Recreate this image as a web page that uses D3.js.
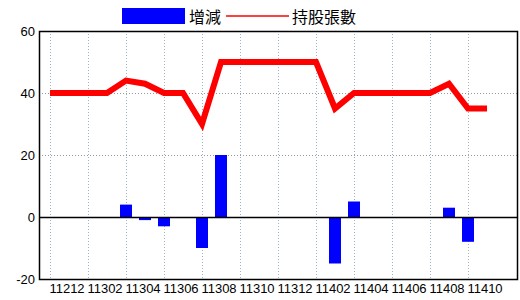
<!DOCTYPE html>
<html>
<head>
<meta charset="utf-8">
<script src="https://cdn.jsdelivr.net/npm/d3@7"></script>
<style>
  body { margin: 0; background: #fff; }
  svg { display: block; }
  .tick-label { font-family: "Liberation Sans Narrow", "Liberation Sans", Arial, sans-serif; font-size: 13px; fill: #000; }
  .legend-label { font-family: "Noto Sans CJK TC", "Noto Sans CJK SC", sans-serif; font-size: 16px; fill: #000; }
</style>
</head>
<body>
<svg id="chart" width="520" height="300"></svg>
<script>
// months (ROC year + month)
const months = ['11212', '11301', '11302', '11303', '11304', '11305', '11306', '11307',
    '11308', '11309', '11310', '11311', '11312', '11401', '11402', '11403',
    '11404', '11405', '11406', '11407', '11408', '11409', '11410', '11411']

// 持股張數
const holdings = [40, 40, 40, 40, 44, 43, 40, 40, 30, 50, 50, 50, 50, 50, 50, 35,
    40, 40, 40, 40, 40, 43, 35, 35]

// 增減
const changes = [0, 0, 0, 0, 4, -1, -3, 0, -10, 20, 0, 0, 0, 0, 0, -15,
    5, 0, 0, 0, 0, 3, -8, 0]

const yTicks = [-20, 0, 20, 40, 60]

const plot = { left: 39, right: 517, top: 31, bottom: 279 }

const svg = d3.select('#chart')

const x = d3.scalePoint()
    .domain(months)
    .range([50, 487])

const y = d3.scaleLinear()
    .domain([-20, 60])
    .range([plot.bottom, plot.top])

//-------------------------------------------------------------
// grid
svg.append('g')
    .selectAll('line')
    .data(months.filter((d, i) => i % 2 == 0))
    .enter()
        .append('line')
        .attr('x1', d => x(d) + 0.5)
        .attr('x2', d => x(d) + 0.5)
        .attr('y1', plot.top)
        .attr('y2', plot.bottom)
        .style('stroke', '#9db4c8')
        .style('stroke-dasharray', '1,2')

svg.append('g')
    .selectAll('line')
    .data([20, 40])
    .enter()
        .append('line')
        .attr('x1', plot.left)
        .attr('x2', plot.right)
        .attr('y1', d => Math.round(y(d)) + 0.5)
        .attr('y2', d => Math.round(y(d)) + 0.5)
        .style('stroke', '#999')
        .style('stroke-dasharray', '1,2')

//-------------------------------------------------------------
// bars
const barWidth = 12
svg.append('g')
    .selectAll('rect')
    .data(months.map((m, i) => ({ month: m, value: changes[i] })).filter(d => d.value != 0))
    .enter()
        .append('rect')
        .attr('x', d => x(d.month) - barWidth / 2)
        .attr('y', d => y(Math.max(0, d.value)))
        .attr('width', barWidth)
        .attr('height', d => Math.abs(y(d.value) - y(0)))
        .style('fill', '#0000ff')

// zero line
svg.append('line')
    .attr('x1', plot.left)
    .attr('x2', plot.right)
    .attr('y1', Math.round(y(0)) + 0.5)
    .attr('y2', Math.round(y(0)) + 0.5)
    .style('stroke', '#000')
    .style('stroke-width', 1.5)

//-------------------------------------------------------------
// holdings line
const line = d3.line()
    .x((d, i) => x(months[i]))
    .y(d => y(d))

svg.append('path')
    .datum(holdings)
    .attr('d', line)
    .style('fill', 'none')
    .style('stroke', '#ff0000')
    .style('stroke-width', 6)
    .style('stroke-linejoin', 'miter')

//-------------------------------------------------------------
// frame
svg.append('rect')
    .attr('x', plot.left + 0.5)
    .attr('y', plot.top + 0.5)
    .attr('width', plot.right - plot.left)
    .attr('height', plot.bottom - plot.top)
    .style('fill', 'none')
    .style('stroke', '#000')
    .style('stroke-width', 1.5)

//-------------------------------------------------------------
// axis labels
svg.append('g')
    .selectAll('text')
    .data(yTicks)
    .enter()
        .append('text')
        .attr('class', 'tick-label')
        .attr('x', 35)
        .attr('y', d => y(d))
        .attr('dy', '0.35em')
        .attr('text-anchor', 'end')
        .text(d => d)

svg.append('g')
    .selectAll('text')
    .data(months.filter((d, i) => i % 2 == 0))
    .enter()
        .append('text')
        .attr('class', 'tick-label')
        .attr('x', d => x(d) + 17)
        .attr('y', 293)
        .attr('text-anchor', 'middle')
        .text(d => d)

//-------------------------------------------------------------
// legend
const legend = svg.append('g').attr('id', 'legend')

legend.append('rect')
    .attr('x', 122)
    .attr('y', 8)
    .attr('width', 63)
    .attr('height', 16)
    .style('fill', '#0000ff')

legend.append('text')
    .attr('class', 'legend-label')
    .attr('x', 189)
    .attr('y', 23)
    .text('增減')

legend.append('line')
    .attr('x1', 226)
    .attr('x2', 289)
    .attr('y1', 16)
    .attr('y2', 16)
    .style('stroke', '#ff0000')
    .style('stroke-width', 1.5)

legend.append('text')
    .attr('class', 'legend-label')
    .attr('x', 292)
    .attr('y', 23)
    .text('持股張數')
</script>
</body>
</html>
